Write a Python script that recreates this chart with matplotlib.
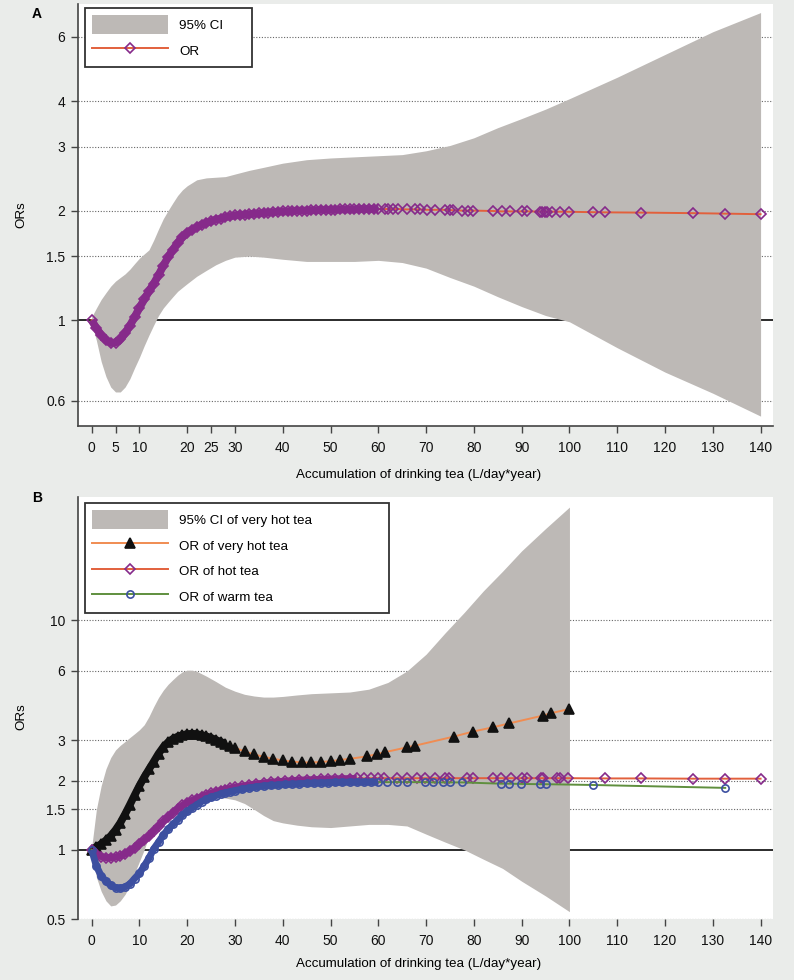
import matplotlib
matplotlib.use("Agg")
import matplotlib.pyplot as plt
from matplotlib.lines import Line2D
from matplotlib.patches import Patch
from matplotlib.ticker import NullLocator, FixedLocator, FixedFormatter

# ---------------- Panel A data ----------------
A_or_x = [0, 1, 2, 3, 4, 5, 6, 7, 8, 9, 10, 11, 12, 13, 14, 15, 16, 17, 18, 19, 20,
          21, 22, 23, 24, 25, 26, 27, 28, 29, 30, 31, 32, 33, 34, 35, 36, 37, 38, 39, 40,
          41, 42, 43, 44, 45, 46, 47, 48, 49, 50, 51, 52, 53, 54, 55, 56, 57, 58, 59, 60,
          61.4, 62.1, 63.1, 64.2, 65.9, 67.7, 68.7, 70.1, 71.9, 74.0, 75.0, 75.7, 77.5, 78.8,
          79.9, 84.0, 85.8, 87.6, 90.0, 91.1, 93.9, 94.3, 94.8, 95.3, 96.3, 98.0, 100.0,
          105.0, 107.5, 115.0, 125.9, 132.6, 140.0]
A_or_y = [1.00, 0.95, 0.91, 0.88, 0.866, 0.868, 0.885, 0.92, 0.965, 1.02, 1.08, 1.14, 1.20,
          1.26, 1.33, 1.41, 1.49, 1.56, 1.63, 1.69, 1.74,
          1.77, 1.80, 1.83, 1.85, 1.87, 1.89, 1.90, 1.92, 1.93, 1.94, 1.945, 1.95, 1.955,
          1.96, 1.965, 1.97, 1.975, 1.98, 1.985, 1.99,
          1.99, 1.995, 2.0, 2.0, 2.0, 2.005, 2.005, 2.01, 2.01, 2.01, 2.01, 2.015, 2.015,
          2.015, 2.015, 2.02, 2.02, 2.02, 2.02, 2.02,
          2.02, 2.02, 2.02, 2.02, 2.015, 2.015, 2.015, 2.01, 2.01, 2.01, 2.005, 2.005, 2.0, 2.0,
          2.0, 1.995, 1.99, 1.99, 1.99, 1.99, 1.988, 1.988, 1.988, 1.987, 1.987, 1.986, 1.985,
          1.98, 1.978, 1.975, 1.968, 1.962, 1.955]

A_ci_x = [0, 1, 2, 3, 4, 5, 6, 7, 8, 9, 10, 11, 12, 13, 14, 15, 16, 17, 18, 19, 20, 22, 24,
          26, 28, 30, 33, 36, 40, 45, 50, 55, 60, 65, 70, 75, 80, 85, 90, 95, 100, 110, 120,
          130, 140]
A_ci_hi = [1.02, 1.08, 1.14, 1.19, 1.24, 1.28, 1.31, 1.34, 1.38, 1.43, 1.48, 1.52, 1.56, 1.66,
           1.78, 1.90, 2.00, 2.10, 2.20, 2.28, 2.34, 2.43, 2.46, 2.47, 2.48, 2.52, 2.58, 2.63,
           2.70, 2.76, 2.79, 2.81, 2.83, 2.85, 2.92, 3.02, 3.17, 3.38, 3.58, 3.80, 4.06, 4.65,
           5.37, 6.20, 7.00]
A_ci_lo = [0.98, 0.88, 0.77, 0.70, 0.655, 0.635, 0.635, 0.655, 0.69, 0.74, 0.79, 0.85, 0.91,
           0.97, 1.03, 1.08, 1.12, 1.16, 1.20, 1.23, 1.26, 1.32, 1.37, 1.42, 1.46, 1.49, 1.50,
           1.49, 1.47, 1.45, 1.45, 1.45, 1.46, 1.44, 1.39, 1.31, 1.24, 1.16, 1.09, 1.03, 0.99,
           0.84, 0.72, 0.63, 0.545]

A_yticks = [0.6, 1, 1.5, 2, 3, 4, 6]
A_yticklabels = ["0.6", "1", "1.5", "2", "3", "4", "6"]
A_xticks = [0, 5, 10, 20, 25, 30, 40, 50, 60, 70, 80, 90, 100, 110, 120, 130, 140]

# ---------------- Panel B data ----------------
vh_x = [0, 1, 2, 3, 4, 5, 6, 7, 8, 9, 10, 11, 12, 13, 14, 15, 16, 17, 18, 19, 20, 21, 22, 23,
        24, 25, 26, 27, 28, 29, 30, 32, 34, 36, 38, 40, 42, 44, 46, 48, 50, 52,
        54.1, 57.6, 59.7, 61.4, 65.9, 67.7, 75.8, 79.8, 83.9, 87.4, 94.5, 96.1, 100.0]
vh_y = [1.00, 1.03, 1.06, 1.10, 1.15, 1.22, 1.31, 1.43, 1.57, 1.73, 1.90, 2.07, 2.24, 2.42,
        2.62, 2.80, 2.94, 3.04, 3.11, 3.16, 3.19, 3.20, 3.19, 3.16, 3.12, 3.07, 3.01, 2.95,
        2.90, 2.84, 2.78, 2.68, 2.60, 2.54, 2.49, 2.45, 2.42, 2.40, 2.40, 2.41, 2.43, 2.46,
        2.49, 2.55, 2.61, 2.66, 2.79, 2.84, 3.11, 3.27, 3.41, 3.55, 3.84, 3.93, 4.10]

hot_x = [0, 1, 2, 3, 4, 5, 6, 7, 8, 9, 10, 11, 12, 13, 14, 15, 16, 17, 18, 19, 20, 21, 22, 23,
         24, 25, 26, 27, 28, 29, 30, 31.5, 33, 34.5, 36, 37.5, 39, 40.5, 42, 43.5, 45, 46.5,
         48, 49.5, 51, 52.5, 54, 55.5, 57, 58.5, 60,
         61.1, 63.9, 66.0, 68.0, 69.8, 71.9, 74.0, 74.7, 78.5, 79.9, 83.9, 85.7, 87.7, 90.0,
         91.1, 94.0, 94.5, 97.3, 98.0, 99.8, 107.5, 115.0, 125.9, 132.6, 140.0]
hot_y = [1.0, 0.96, 0.935, 0.925, 0.925, 0.93, 0.94, 0.96, 0.99, 1.02, 1.06, 1.10, 1.15, 1.21,
         1.27, 1.33, 1.39, 1.45, 1.51, 1.56, 1.60, 1.64, 1.67, 1.70, 1.73, 1.76, 1.79, 1.81,
         1.83, 1.85, 1.87, 1.89, 1.915, 1.935, 1.95, 1.965, 1.98, 1.99, 2.0, 2.01, 2.015,
         2.02, 2.025, 2.03, 2.035, 2.04, 2.04, 2.045, 2.045, 2.05, 2.05,
         2.05, 2.05, 2.05, 2.05, 2.05, 2.05, 2.05, 2.05, 2.05, 2.05, 2.05, 2.05, 2.05, 2.05,
         2.05, 2.05, 2.05, 2.05, 2.05, 2.05, 2.045, 2.045, 2.04, 2.04, 2.04]

warm_x = [0, 1, 2, 3, 4, 5, 6, 7, 8, 9, 10, 11, 12, 13, 14, 15, 16, 17, 18, 19, 20, 21, 22, 23,
          24, 25, 26, 27, 28, 29, 30, 31.5, 33, 34.5, 36, 37.5, 39, 40.5, 42, 43.5, 45, 46.5,
          48, 49.5, 51, 52.5, 54, 55.5, 57, 58.5, 60,
          61.9, 63.9, 66.0, 69.8, 71.5, 73.6, 75.0, 77.5, 85.7, 87.4, 89.9, 93.8, 95.0, 104.9,
          132.6]
warm_y = [1.0, 0.85, 0.77, 0.73, 0.70, 0.685, 0.68, 0.69, 0.71, 0.75, 0.79, 0.85, 0.92, 1.01,
          1.08, 1.16, 1.23, 1.29, 1.35, 1.42, 1.47, 1.52, 1.57, 1.62, 1.66, 1.69, 1.72, 1.75,
          1.77, 1.79, 1.81, 1.835, 1.86, 1.88, 1.895, 1.905, 1.915, 1.925, 1.93, 1.94, 1.945,
          1.95, 1.955, 1.96, 1.965, 1.965, 1.97, 1.97, 1.97, 1.97, 1.97,
          1.97, 1.97, 1.97, 1.97, 1.965, 1.965, 1.965, 1.965, 1.94, 1.94, 1.935, 1.93, 1.93,
          1.915, 1.86]

B_ci_x = [0, 1, 2, 3, 4, 5, 6, 7, 8, 9, 10, 11, 12, 13, 14, 15, 16, 17, 18, 19, 20, 21, 22, 24,
          26, 28, 30, 32, 34, 36, 38, 40, 43, 46, 50, 54, 58, 62, 66, 70, 74, 78, 82, 86, 90,
          95, 100]
B_ci_hi = [1.02, 1.50, 1.90, 2.25, 2.52, 2.72, 2.85, 2.96, 3.08, 3.20, 3.33, 3.50, 3.80, 4.20,
           4.60, 4.95, 5.25, 5.50, 5.75, 5.95, 6.05, 6.05, 5.98, 5.70, 5.40, 5.10, 4.90, 4.75,
           4.67, 4.62, 4.62, 4.65, 4.72, 4.78, 4.82, 4.86, 5.0, 5.35, 6.0, 7.1, 8.8, 10.8, 13.4,
           16.3, 20.0, 25.0, 31.0]
B_ci_lo = [0.98, 0.76, 0.66, 0.60, 0.57, 0.575, 0.60, 0.64, 0.70, 0.79, 0.89, 1.00, 1.15, 1.28,
           1.37, 1.43, 1.48, 1.53, 1.57, 1.60, 1.62, 1.64, 1.66, 1.68, 1.69, 1.68, 1.65, 1.59,
           1.50, 1.41, 1.34, 1.31, 1.28, 1.26, 1.25, 1.27, 1.29, 1.29, 1.27, 1.17, 1.08, 1.00,
           0.91, 0.83, 0.73, 0.63, 0.538]

B_yticks = [0.5, 1, 1.5, 2, 3, 6, 10]
B_yticklabels = ["0.5", "1", "1.5", "2", "3", "6", "10"]
B_xticks = [0, 10, 20, 30, 40, 50, 60, 70, 80, 90, 100, 110, 120, 130, 140]

xlabel_text = "Accumulation of drinking tea (L/day*year)"

# ---------------- style ----------------
FIG_BG = "#eaecea"
CI_C = "#bdb9b6"
PURPLE = "#862a8a"
RED = "#e2603c"
ORANGE = "#f08c52"
GREEN = "#5f8f3e"
BLUE = "#3c4fa0"
BLACK = "#111111"
SPINE = "#444444"

FONT = ["Liberation Sans", "DejaVu Sans"]
plt.rcParams["font.family"] = FONT

W, H = 794, 980
fig = plt.figure(figsize=(W / 100, H / 100), dpi=100, facecolor=FIG_BG)


def px_axes(left, top, right, bottom):
    return fig.add_axes([left / W, 1 - bottom / H, (right - left) / W, (bottom - top) / H])


def style_axes(ax, ylim, yticks, ylabels, xticks):
    ax.set_facecolor("white")
    ax.set_yscale("log")
    ax.set_xlim(-2.85, 142.6)
    ax.set_ylim(*ylim)
    ax.yaxis.set_major_locator(FixedLocator(yticks))
    ax.yaxis.set_major_formatter(FixedFormatter(ylabels))
    ax.yaxis.set_minor_locator(NullLocator())
    ax.set_xticks(xticks)
    ax.set_xticklabels([str(t) for t in xticks])
    for s in ("top", "right"):
        ax.spines[s].set_visible(False)
    for s in ("left", "bottom"):
        ax.spines[s].set_color(SPINE)
        ax.spines[s].set_linewidth(1.2)
    ax.tick_params(axis="both", direction="out", length=5, width=1.0, color=SPINE,
                   labelsize=10, labelcolor="#111111")
    ax.tick_params(axis="x", pad=6)
    ax.tick_params(axis="y", pad=4)
    for v in yticks:
        if v == 1:
            ax.axhline(v, color="#1a1a1a", lw=1.3, zorder=0.6)
        else:
            ax.axhline(v, color="#666666", lw=0.8, ls=(0, (1, 1.5)), zorder=0.5)


def series(ax, x, y, lc, marker, mc, ms, dense_max, band_lw, filled=False, z=3):
    ax.plot(x, y, color=lc, lw=1.4, zorder=z)
    bx = [a for a in x if a <= dense_max]
    by = [b for a, b in zip(x, y) if a <= dense_max]
    ax.plot(bx, by, color=mc, lw=band_lw, solid_capstyle="butt", solid_joinstyle="round",
            zorder=z + 0.05)
    ax.plot(x, y, ls="none", marker=marker, ms=ms,
            mfc=mc if filled else "none", mec=mc, mew=1.2, zorder=z + 0.1)
    return Line2D([], [], color=lc, lw=1.4, marker=marker, ms=ms,
                  mfc=mc if filled else "none", mec=mc, mew=1.2)


LEG_KW = dict(loc="upper left", mode="expand", borderaxespad=0, fancybox=False, framealpha=1,
              edgecolor="#333333", prop={"size": 9.6}, handlelength=5.7, handleheight=1.75,
              handletextpad=0.8, labelspacing=0.55, borderpad=0.55, numpoints=1)

# ---------------- Panel A ----------------
axA = px_axes(78, 4, 773, 426)
style_axes(axA, (0.512, 7.39), A_yticks, A_yticklabels, A_xticks)
axA.fill_between(A_ci_x, A_ci_lo, A_ci_hi, color=CI_C, lw=0, zorder=1)
hA = series(axA, A_or_x, A_or_y, RED, "D", PURPLE, 5.2, 60, 5.6)
legA = axA.legend([Patch(facecolor=CI_C, edgecolor="none"), hA], ["95% CI", "OR"],
                  bbox_to_anchor=(7 / 695, 1 - 4 / 422 - 58 / 422, 167 / 695, 58 / 422),
                  **LEG_KW)
legA.get_frame().set_linewidth(1.3)
legA.set_zorder(10)

# ---------------- Panel B ----------------
axB = px_axes(78, 497, 773, 919)
style_axes(axB, (0.5, 34.3), B_yticks, B_yticklabels, B_xticks)
axB.spines["bottom"].set_visible(False)
axB.fill_between(B_ci_x, B_ci_lo, B_ci_hi, color=CI_C, lw=0, zorder=1)
h_vh = series(axB, vh_x, vh_y, ORANGE, "^", BLACK, 6.5, 28, 5.5, filled=True, z=3)
h_hot = series(axB, hot_x, hot_y, RED, "D", PURPLE, 5.2, 56, 5.0, z=4)
h_warm = series(axB, warm_x, warm_y, GREEN, "o", BLUE, 5.2, 60, 5.0, z=5)
legB = axB.legend([Patch(facecolor=CI_C, edgecolor="none"), h_vh, h_hot, h_warm],
                  ["95% CI of very hot tea", "OR of very hot tea", "OR of hot tea", "OR of warm tea"],
                  bbox_to_anchor=(7 / 695, 1 - 6 / 422 - 107 / 422, 304 / 695, 107 / 422),
                  **LEG_KW)
legB.get_frame().set_linewidth(1.3)
legB.set_zorder(10)

# ---------------- figure texts ----------------
fig.text(37 / W, 1 - 14 / H, "A", fontsize=10, fontweight="bold", ha="center", va="center")
fig.text(37 / W, 1 - 498 / H, "B", fontsize=10, fontweight="bold", ha="center", va="center")
fig.text(21 / W, 1 - 215 / H, "ORs", rotation=90, fontsize=9.6, ha="center", va="center")
fig.text(21 / W, 1 - 717 / H, "ORs", rotation=90, fontsize=9.6, ha="center", va="center")
fig.text(419 / W, 1 - 475 / H, xlabel_text, fontsize=9.6, ha="center", va="center")
fig.text(419 / W, 1 - 964 / H, xlabel_text, fontsize=9.6, ha="center", va="center")

fig.savefig("out.png", dpi=100, facecolor=FIG_BG)
